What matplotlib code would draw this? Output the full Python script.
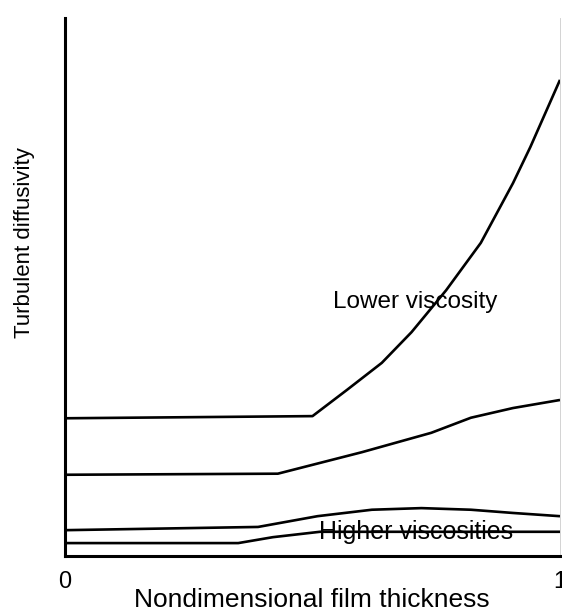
import matplotlib.pyplot as plt

plt.rcParams['font.family'] = ['Liberation Sans', 'DejaVu Sans']

# nondimensional film thickness (0..1) and diffusivity (arbitrary units, axis top = 10)
x_low = [0.0, 0.50, 0.57, 0.64, 0.70, 0.77, 0.84, 0.905, 0.94, 1.0]
y_low = [2.56, 2.60, 3.09, 3.59, 4.16, 4.94, 5.82, 6.93, 7.60, 8.85]

x_mid = [0.0, 0.43, 0.60, 0.74, 0.82, 0.905, 1.0]
y_mid = [1.51, 1.53, 1.93, 2.29, 2.57, 2.75, 2.90]

x_high1 = [0.0, 0.39, 0.51, 0.62, 0.72, 0.82, 0.905, 1.0]
y_high1 = [0.48, 0.54, 0.74, 0.86, 0.89, 0.86, 0.80, 0.74]

x_high2 = [0.0, 0.35, 0.42, 0.515, 0.905, 1.0]
y_high2 = [0.24, 0.24, 0.35, 0.45, 0.45, 0.45]

fig = plt.figure(figsize=(5.62, 6.13), dpi=100)
ax = fig.add_axes([65 / 562, 57 / 613, 495 / 562, 538 / 613])

for xs, ys in [(x_low, y_low), (x_mid, y_mid), (x_high1, y_high1), (x_high2, y_high2)]:
    ax.plot(xs, ys, color='black', lw=1.9, solid_capstyle='butt')

ax.set_xlim(0, 1)
ax.set_ylim(0, 10)

ax.spines['top'].set_visible(False)
ax.spines['right'].set_color('#cccccc')
ax.spines['right'].set_linewidth(0.6)
ax.spines['left'].set_linewidth(2.2)
ax.spines['bottom'].set_linewidth(2.2)

ax.set_xticks([0, 1])
ax.set_xticklabels(['0', '1'], fontsize=17)
ax.tick_params(axis='x', length=0, pad=11)
ax.set_yticks([])

ax.set_xlabel('Nondimensional film thickness', fontsize=19)
ax.xaxis.set_label_coords(0.499, -0.059)
ax.set_ylabel('Turbulent diffusivity', fontsize=16)
ax.yaxis.set_label_coords(-0.06, 0.582)

ax.text(0.707, 4.72, 'Lower viscosity', fontsize=17.5, ha='center', va='center')
ax.text(0.709, 0.44, 'Higher viscosities', fontsize=18, ha='center', va='center')

fig.savefig('out.png', dpi=100)
